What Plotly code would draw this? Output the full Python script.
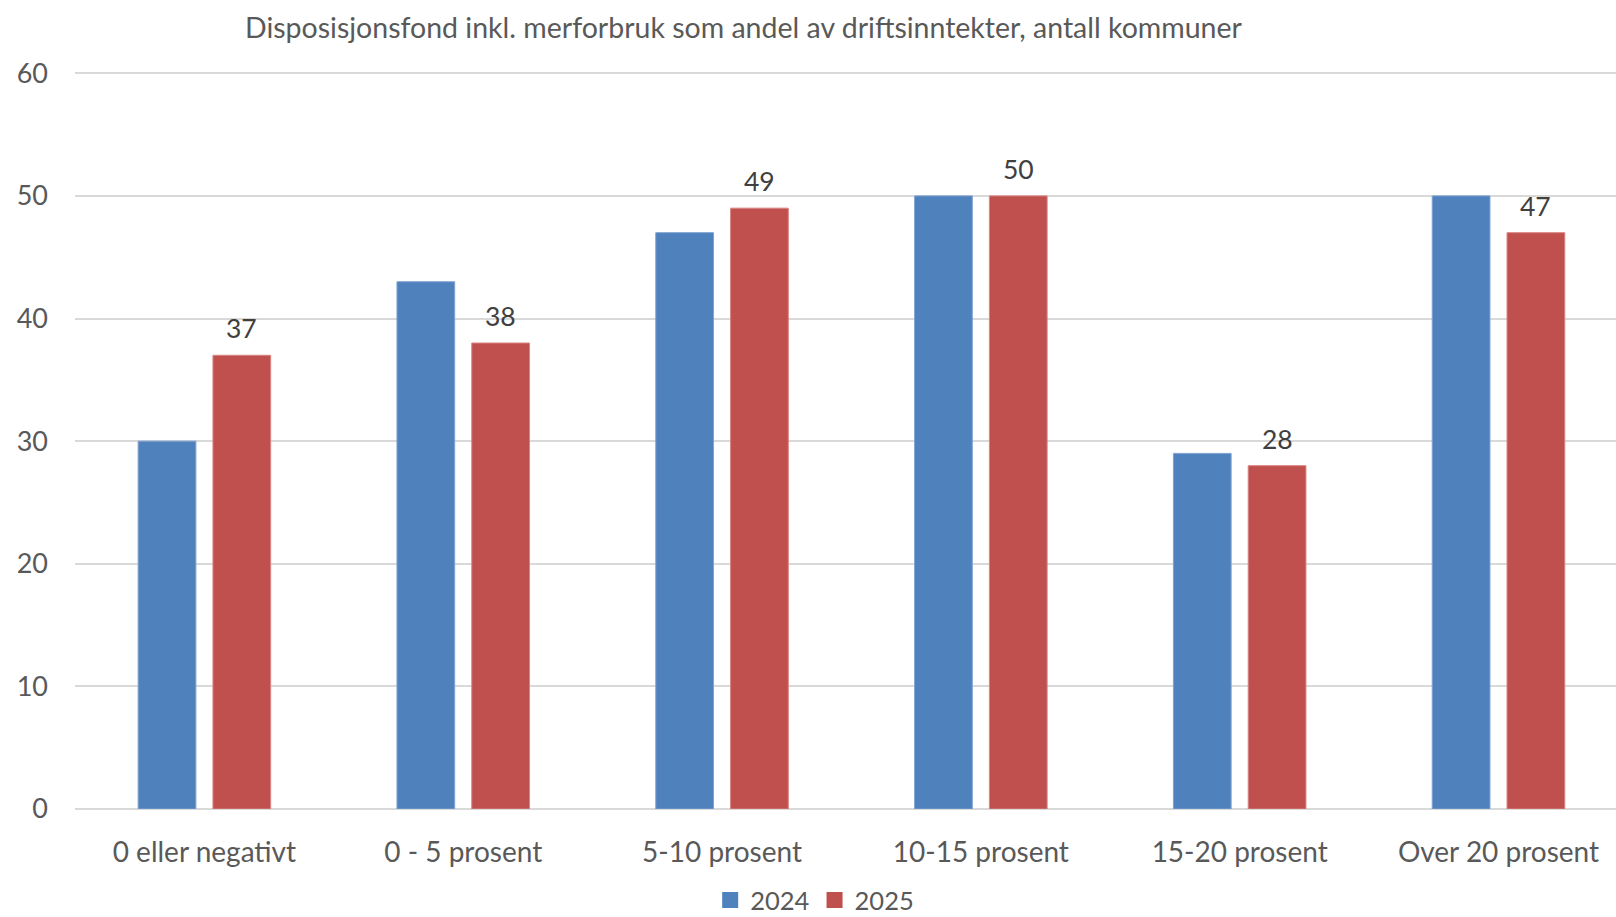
import plotly.graph_objects as go

categories = ['0 eller negativt', '0 - 5 prosent', '5-10 prosent',
              '10-15 prosent', '15-20 prosent', 'Over 20 prosent']
values_2024 = [30, 43, 47, 50, 29, 50]
values_2025 = [37, 38, 49, 50, 28, 47]
y_ticks = [0, 10, 20, 30, 40, 50, 60]

font_name = 'Lato'
blue = '#4F81BD'
red = '#C0504D'
bargap = 0.422
bargroupgap = 0.228

fig = go.Figure()
fig.add_trace(go.Bar(x=categories, y=values_2024, name='2024', showlegend=False,
                     marker=dict(color=blue, line=dict(color='#7FA3D1', width=1))))
fig.add_trace(go.Bar(x=categories, y=values_2025, name='2025', showlegend=False,
                     marker=dict(color=red, line=dict(color='#D98482', width=1))))

# legend entries with bigger squares
for name, col in [('2024', blue), ('2025', red)]:
    fig.add_trace(go.Scatter(x=[None], y=[None], mode='markers', name=name,
                             marker=dict(symbol='square', size=16, color=col)))

# data labels above the 2025 bars
offset = (1 - bargap) / 4
for i, v in enumerate(values_2025):
    fig.add_annotation(x=i + offset, y=v, text=str(v), xref='x', yref='y',
                       showarrow=False, yanchor='bottom', yshift=9,
                       font=dict(size=26.5, color='#404040', family=font_name))

fig.add_annotation(text='Disposisjonsfond inkl. merforbruk som andel av driftsinntekter, antall kommuner',
                   xref='paper', yref='paper', x=0.434, y=1.0455,
                   xanchor='center', yanchor='middle', showarrow=False,
                   font=dict(size=28.5, color='#595959', family=font_name))

fig.update_layout(
    width=1616, height=917,
    margin=dict(l=75, r=0, t=61, b=108),
    plot_bgcolor='white', paper_bgcolor='white',
    barmode='group', bargap=bargap, bargroupgap=bargroupgap,
    font=dict(family=font_name, color='#595959', size=26),
    legend=dict(orientation='h', x=0.48, xref='paper', y=0.018, yref='container',
                xanchor='center', yanchor='middle',
                font=dict(size=25.5, color='#595959'), itemsizing='trace',
                traceorder='normal'),
    xaxis=dict(range=[-0.5, 5.454], showline=False, ticks='', automargin=False,
               ticklabelstandoff=24, tickfont=dict(size=28)),
    yaxis=dict(range=[0, 61], tickvals=y_ticks, showgrid=True,
               gridcolor='#D9D9D9', gridwidth=2, zeroline=True,
               zerolinecolor='#D9D9D9', zerolinewidth=2, automargin=False,
               ticks='', ticklabelstandoff=26, tickfont=dict(size=27)),
)

fig.write_html('out.html', config={'displayModeBar': False},
               post_script="document.body.style.margin='0';")
